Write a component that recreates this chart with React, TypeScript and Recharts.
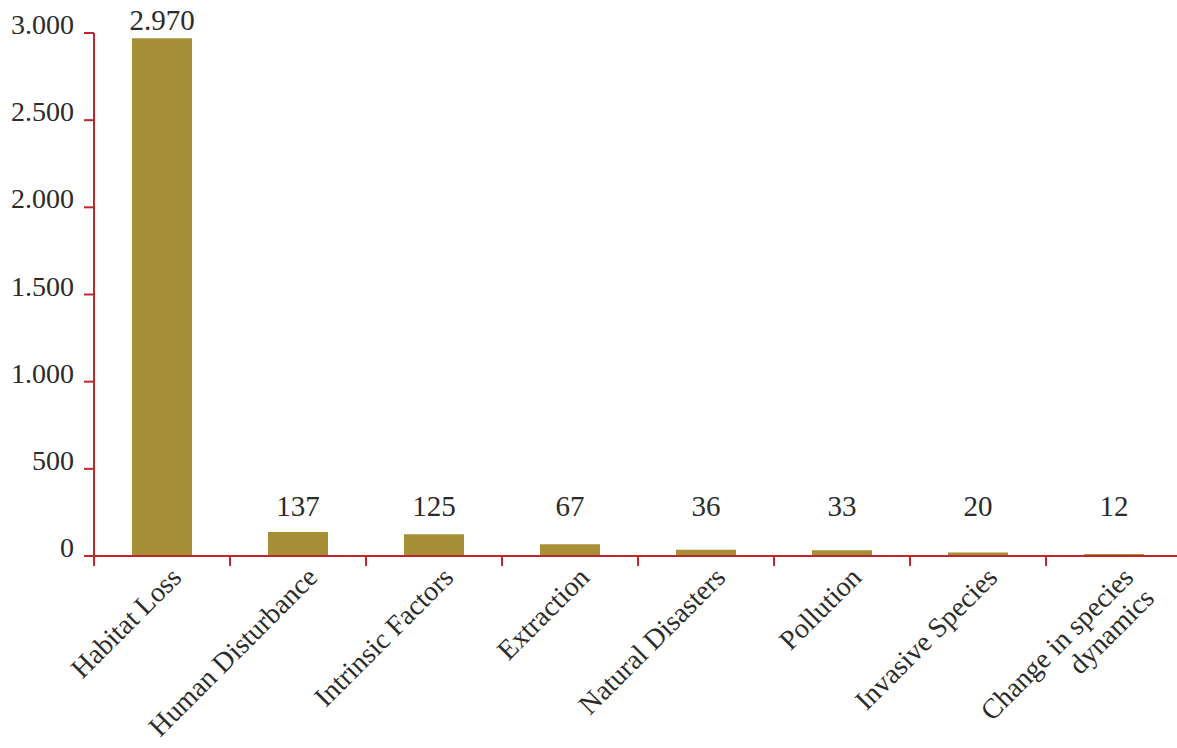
import { BarChart, Bar, XAxis, YAxis, LabelList } from "recharts";

const categories = [
  "Habitat Loss",
  "Human Disturbance",
  "Intrinsic Factors",
  "Extraction",
  "Natural Disasters",
  "Pollution",
  "Invasive Species",
  "Change in species\ndynamics",
];
const counts = [2970, 137, 125, 67, 36, 33, 20, 12];
const yTicks = [0, 500, 1000, 1500, 2000, 2500, 3000];

const data = categories.map((name, i) => ({ name, count: counts[i] }));

const RED = "#c0272d";
const BAR = "#a68f36";
const TEXT = "#2b2b2b";
const FONT = '"Liberation Serif", "DejaVu Serif", serif';

// thousands with a dot, as in the source
const fmt = (v: number) => String(v).replace(/\B(?=(\d{3})+(?!\d))/g, ".");

function YTick(props: any) {
  const { x, y, payload } = props;
  return (
    <text x={x - 8} y={y + 1} textAnchor="end" fontSize={28} fill={TEXT} fontFamily={FONT}>
      {fmt(payload.value)}
    </text>
  );
}

function XTick(props: any) {
  const { x, y, payload } = props;
  const half = payload.offset ?? 68;
  const lines = String(payload.value).split("\n");
  const tx = x + 21;
  const ty = y + 23;
  return (
    <g>
      <line x1={x - half} x2={x - half} y1={y} y2={y + 10} stroke={RED} strokeWidth={2} />
      <text
        x={tx}
        y={ty}
        textAnchor="end"
        fontSize={28}
        fill={TEXT}
        fontFamily={FONT}
        transform={`rotate(-45, ${tx}, ${ty})`}
      >
        {lines.map((l, i) => (
          <tspan key={i} x={tx} dy={i === 0 ? 0 : "1.05em"}>
            {l}
          </tspan>
        ))}
      </text>
    </g>
  );
}

function ValueLabel(props: any) {
  const { x, y, width, height, value } = props;
  const bottom = y + height;
  const base = Math.min(y, bottom - 32) - 8;
  return (
    <text x={x + width / 2} y={base} textAnchor="middle" fontSize={29} fill={TEXT} fontFamily={FONT}>
      {fmt(value)}
    </text>
  );
}

export default function App() {
  return (
    <div
      style={{
        position: "absolute",
        left: 0,
        top: 0,
        width: 1177,
        height: 748,
        overflow: "hidden",
        background: "#fff",
      }}
    >
      <BarChart width={1190} height={748} data={data} margin={{ top: 33, right: 8, left: 0, bottom: 0 }}>
        <YAxis
          width={94}
          domain={[0, 3000]}
          ticks={yTicks}
          interval={0}
          tickSize={10}
          tick={<YTick />}
          axisLine={{ stroke: RED, strokeWidth: 2 }}
          tickLine={{ stroke: RED, strokeWidth: 2 }}
        />
        <XAxis
          dataKey="name"
          height={192}
          interval={0}
          tickSize={0}
          tickMargin={0}
          tick={<XTick />}
          axisLine={{ stroke: RED, strokeWidth: 2 }}
          tickLine={false}
        />
        <Bar dataKey="count" fill={BAR} barSize={60} isAnimationActive={false}>
          <LabelList dataKey="count" content={<ValueLabel />} />
        </Bar>
      </BarChart>
    </div>
  );
}
